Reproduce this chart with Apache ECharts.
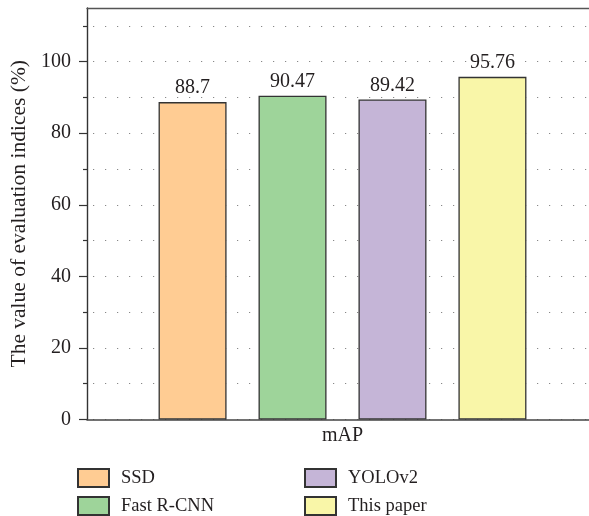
<!DOCTYPE html>
<html>
<head>
<meta charset="utf-8">
<script src="https://cdn.jsdelivr.net/npm/echarts@6/dist/echarts.min.js"></script>
<style>
  html, body { margin: 0; padding: 0; background: #fff; }
  #chart { width: 589px; height: 516px; }
</style>
</head>
<body>
<div id="chart"></div>
<script>
// Detection accuracy (mAP, %) of each method
const categories = ['mAP'];
const methods = ['SSD', 'Fast R-CNN', 'YOLOv2', 'This paper'];
const values = [88.7, 90.47, 89.42, 95.76];
const colors = ['#FFCC93', '#9ED49A', '#C5B5D7', '#F9F6A8'];
const majorTicks = [0, 20, 40, 60, 80, 100];
const minorTicks = [10, 30, 50, 70, 90, 110];

const FONT = '"Liberation Serif", "DejaVu Serif", serif';
const TEXT = '#231f20';
const DOTTED = { color: '#888', width: 1.2, type: [1.2, 10.8], dashOffset: 6 };

const series = methods.map((name, i) => ({
  name: name,
  type: 'bar',
  xAxisIndex: 0,
  yAxisIndex: 0,
  barWidth: 68,
  barGap: '47%',
  data: [values[i]],
  itemStyle: { color: colors[i], borderColor: '#333', borderWidth: 1.3 },
  label: {
    show: true,
    position: 'top',
    distance: 4,
    fontFamily: FONT,
    fontSize: 20,
    color: TEXT,
    formatter: (p) => String(values[i])
  }
}));

const legendCommon = {
  orient: 'vertical',
  itemWidth: 31,
  itemHeight: 18,
  itemGap: 8,
  padding: 0,
  icon: 'rect',
  textStyle: { fontFamily: FONT, fontSize: 18.5, color: TEXT, padding: [0, 0, 0, 7] }
};

const chart = echarts.init(document.getElementById('chart'), null, { renderer: 'canvas' });
chart.setOption({
  animation: false,
  backgroundColor: '#fff',
  grid: {
    left: 87, top: 8, right: -9, bottom: 96.5,
    containLabel: false,
    outerBoundsMode: 'none'
  },
  legend: [
    Object.assign({ left: 77, top: 468, data: ['SSD', 'Fast R-CNN'] }, legendCommon),
    Object.assign({ left: 304, top: 468, data: ['YOLOv2', 'This paper'] }, legendCommon)
  ],
  xAxis: [
    {
      type: 'category',
      data: categories,
      position: 'bottom',
      axisLine: { show: true, onZero: false, lineStyle: { color: '#444', width: 1.6 } },
      axisTick: { show: false },
      axisLabel: { fontFamily: FONT, fontSize: 20, color: TEXT, margin: 6 }
    },
    {
      type: 'category',
      data: categories,
      position: 'top',
      axisLine: { show: true, onZero: false, lineStyle: { color: '#555', width: 1.4 } },
      axisTick: { show: false },
      axisLabel: { show: false }
    }
  ],
  yAxis: [
    {
      type: 'value',
      min: 0,
      max: 115,
      interval: 10,
      name: 'The value of evaluation indices (%)',
      nameLocation: 'middle',
      nameGap: 57,
      nameTextStyle: { fontFamily: FONT, fontSize: 21.5, color: TEXT },
      axisLine: { show: true, lineStyle: { color: '#333', width: 1.4 } },
      axisTick: { show: true, length: 8, customValues: majorTicks, lineStyle: { color: '#333', width: 1.2 } },
      axisLabel: { customValues: majorTicks, fontFamily: FONT, fontSize: 20, color: TEXT, margin: 16 },
      splitLine: { show: true, lineStyle: DOTTED }
    },
    {
      type: 'value',
      min: 0,
      max: 115,
      interval: 10,
      position: 'left',
      axisLine: { show: false },
      axisTick: { show: true, length: 4, customValues: minorTicks, lineStyle: { color: '#333', width: 1.2 } },
      axisLabel: { show: false },
      splitLine: { show: true, lineStyle: DOTTED }
    }
  ],
  series: series
});
</script>
</body>
</html>
